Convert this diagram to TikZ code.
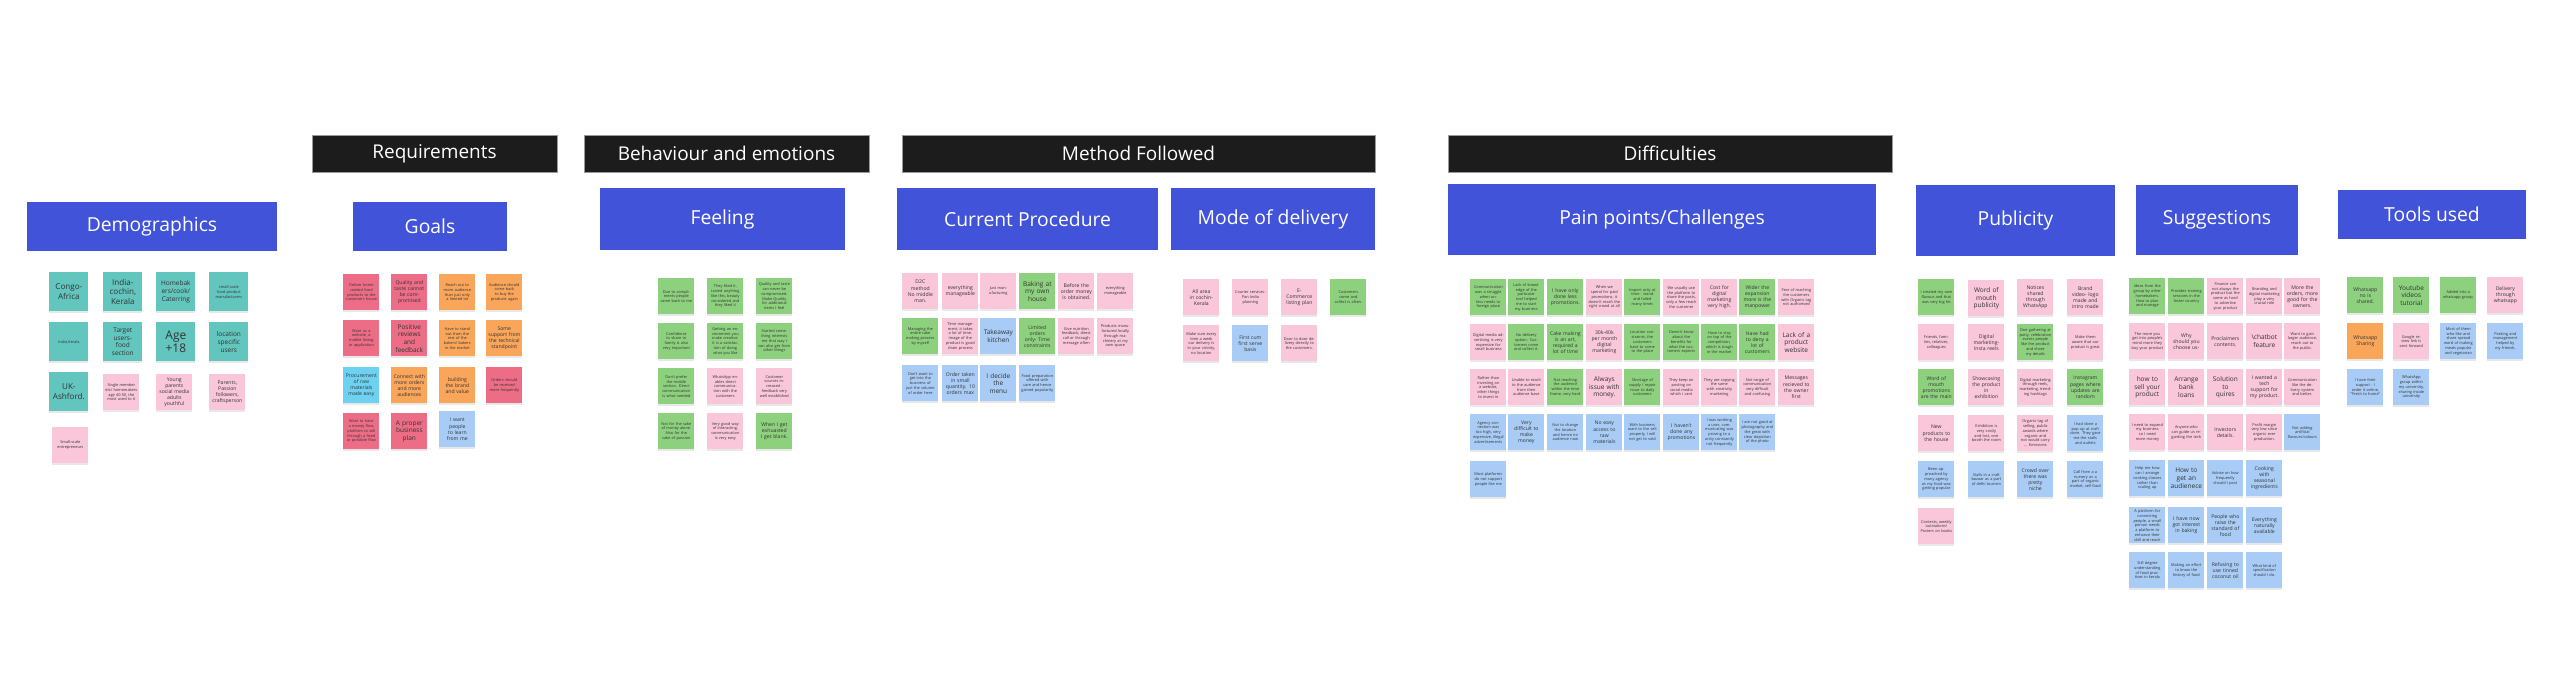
\documentclass[tikz,border=0pt]{standalone}
\usepackage{fontspec}
\setmainfont{Open Sans}
\usepackage{xcolor}
\usepackage{tikz}
\usetikzlibrary{shadows}

\definecolor{hblue}{HTML}{4153D8}
\definecolor{barblack}{HTML}{1C1C1C}
\definecolor{ink}{HTML}{333333}
\definecolor{stteal}{HTML}{62C5BE}
\definecolor{stpink}{HTML}{F9C6DA}
\definecolor{stgreen}{HTML}{8DD17E}
\definecolor{stred}{HTML}{EE6D86}
\definecolor{storange}{HTML}{F9A65A}
\definecolor{stcyan}{HTML}{6DD2F2}
\definecolor{stblue}{HTML}{A8CCF5}

\begin{document}
\begin{tikzpicture}[
    x=0.02cm, y=-0.02cm,
    bar/.style={rectangle, fill=barblack, draw=black!40, line width=0.3pt, text=white, inner sep=0pt, minimum height=0.74cm, font=\fontsize{10.8}{12}\selectfont},
    head/.style={rectangle, fill=hblue, text=white, inner sep=0pt, font=\fontsize{11}{13}\selectfont},
    note/.style={rectangle, anchor=north west, minimum width=0.72cm, minimum height=0.72cm, text width=0.64cm, inner sep=0.4mm, align=center, text=ink,
        drop shadow={shadow xshift=0pt, shadow yshift=-0.9pt, opacity=0.18}},
    wide/.style={minimum width=0.78cm, minimum height=0.78cm, text width=0.7cm},
    ctl/.style={fill=stteal}, cpk/.style={fill=stpink}, cgn/.style={fill=stgreen},
    crd/.style={fill=stred}, cor/.style={fill=storange}, ccy/.style={fill=stcyan}, cbl/.style={fill=stblue},
    fA/.style={font=\fontsize{6.8}{7.6}\selectfont},
    fB/.style={font=\fontsize{4.6}{5.4}\selectfont},
    fC/.style={font=\fontsize{3.7}{4.4}\selectfont},
    fD/.style={font=\fontsize{2.9}{3.5}\selectfont},
    fE/.style={font=\fontsize{2.2}{2.7}\selectfont}
]
\fill[white] (0,0) rectangle (2560,678);
\useasboundingbox (0,0) rectangle (2560,678);

% section bars
\node[bar, minimum width=4.9cm] (req) at (434.5,153.5) {Requirements};
\node[bar, minimum width=5.7cm] (behav) at (726.5,153.5) {Behaviour and emotions};
\node[bar, minimum width=9.46cm] (method) at (1138.5,153.5) {Method Followed};
\node[bar, minimum width=8.88cm] (diff) at (1670,153.5) {Difficulties};

% cluster headers
\node[head, minimum width=5cm, minimum height=0.98cm] (demo) at (152,226.5) {Demographics};
\node[head, minimum width=3.08cm, minimum height=0.98cm] (goals) at (430,226.5) {Goals};
\node[head, minimum width=4.9cm, minimum height=1.24cm] (feel) at (722.5,219) {Feeling};
\node[head, minimum width=5.22cm, minimum height=1.24cm] (proc) at (1027.5,219) {Current Procedure};
\node[head, minimum width=4.08cm, minimum height=1.24cm] (deliv) at (1273,219) {Mode of delivery};
\node[head, minimum width=8.56cm, minimum height=1.42cm] (pain) at (1662,219.5) {Pain points/Challenges};
\node[head, minimum width=3.98cm, minimum height=1.42cm] (publ) at (2015.5,220.5) {Publicity};
\node[head, minimum width=3.24cm, minimum height=1.4cm] (sugg) at (2217,220) {Suggestions};
\node[head, minimum width=3.76cm, minimum height=0.98cm] (tools) at (2432,214.5) {Tools used};

% Demographics
\node[note, wide, ctl, fB] (demo1) at (49,272) {Congo-\\Africa};
\node[note, wide, ctl, fB] (demo2) at (103,272) {India-\\cochin,\\Kerala};
\node[note, wide, ctl, fC] (demo3) at (156,272) {Homebak\\ers/cook/\\Caterring};
\node[note, wide, ctl, fE] (demo4) at (209,272) {small-scale food product manufacturers};
\node[note, wide, ctl, fE] (demo5) at (49,322) {India,Kerala};
\node[note, wide, ctl, fC] (demo6) at (103,322) {Target\\users-\\food\\section};
\node[note, wide, ctl, fA] (demo7) at (156,322) {Age\\+18};
\node[note, wide, ctl, fC] (demo8) at (209,322) {location\\specific\\users};
\node[note, wide, ctl, fB] (demo9) at (49,372) {UK-\\Ashford.};
\node[note, cpk, fE] (demo10) at (103,374) {Single member ets/ homemakers age 40-50, the most used to it};
\node[note, cpk, fD] (demo11) at (156,374) {Young\\parents\\social media\\adults youthful};
\node[note, cpk, fD] (demo12) at (209,374) {Parents,\\Passion\\followers,\\craftsperson};
\node[note, cpk, fE] (demo13) at (52,427) {Small-scale entrepreneurs};

% Goals
\node[note, crd, fE] (goal1) at (343,274) {Deliver home cooked food products to the customers house};
\node[note, crd, fD] (goal2) at (391,274) {Quality and taste cannot be compromised};
\node[note, cor, fE] (goal3) at (439,274) {Reach out to more audience than just only a limited lot};
\node[note, cor, fE] (goal4) at (486,274) {Audience should come back to buy the products again};
\node[note, crd, fE] (goal5) at (343,320) {Want us a website, a mobile listing or application};
\node[note, crd, fC] (goal6) at (391,320) {Positive\\reviews\\and\\feedback};
\node[note, cor, fE] (goal7) at (439,320) {Have to stand out from the rest of the bakers/ bakers in the market};
\node[note, cor, fD] (goal8) at (486,320) {Some support from the technical standpoint};
\node[note, ccy, fD] (goal9) at (343,367) {Procurement of raw materials made easy};
\node[note, cor, fD] (goal10) at (391,367) {Connect with more orders and more audiences};
\node[note, cor, fD] (goal11) at (439,367) {building the brand and value};
\node[note, crd, fE] (goal12) at (486,367) {Orders should be received more frequently};
\node[note, crd, fE] (goal13) at (343,413) {Want to have a money flow, platform to sell through a fixed or possible flow};
\node[note, crd, fC] (goal14) at (391,413) {A proper\\business\\plan};
\node[note, cbl, fD] (goal15) at (439,411) {I want people to learn from me};

% Feeling
\node[note, cgn, fE] (feel1) at (658,278) {Due to compliments people came back to me};
\node[note, cgn, fE] (feel2) at (707,278) {They liked it, tasted anything like this, beauty considered and they liked it};
\node[note, cgn, fE] (feel3) at (756,278) {Quality and taste can never be compromised. Make Quality for additional items I feel};
\node[note, cgn, fE] (feel4) at (658,323) {Confidence to share to family is also very important};
\node[note, cgn, fE] (feel5) at (707,323) {Getting an environment you make creative. It is a satisfaction of doing what you like};
\node[note, cgn, fE] (feel6) at (756,323) {Started something interests me that way I can also get from other things};
\node[note, cgn, fE] (feel7) at (658,368) {Don't prefer the mobile section. Direct communication is what needed};
\node[note, cpk, fE] (feel8) at (707,368) {WhatsApp enables direct communication with the customers};
\node[note, cpk, fE] (feel9) at (756,368) {Customer sources increased - feedback very well established};
\node[note, cgn, fE] (feel10) at (658,413) {Not for the sake of money alone. Also for the sake of passion};
\node[note, cpk, fE] (feel11) at (707,413) {Very good way of interacting, communication is very easy};
\node[note, cgn, fD] (feel12) at (756,413) {When I get exhuasted I get blank.};

% Current procedure
\node[note, cpk, fD] (proc1) at (902,273) {D2C\\method\\No middle\\man.};
\node[note, cpk, fD] (proc2) at (942,273) {everything manageable};
\node[note, cpk, fE] (proc3) at (980,273) {just manufacturing};
\node[note, cgn, fC] (proc4) at (1019,273) {Baking at\\my own\\house};
\node[note, cpk, fD] (proc5) at (1058,273) {Before the order money is obtained.};
\node[note, cpk, fE] (proc6) at (1097,273) {everything manageable};
\node[note, cgn, fE] (proc7) at (902,318) {Managing the entire cake making process by myself};
\node[note, cpk, fE] (proc8) at (942,318) {Time management, it takes a lot of time. Image of the product is good chain process};
\node[note, cbl, fC] (proc9) at (980,318) {Takeaway\\kitchen};
\node[note, cgn, fD] (proc10) at (1019,318) {Limited\\orders\\only- Time\\constraints};
\node[note, cpk, fE] (proc11) at (1058,318) {Give nutrition feedback, direct call or through message often};
\node[note, cpk, fE] (proc12) at (1097,318) {Products manufactured locally through machinery at my own space};
\node[note, cbl, fE] (proc13) at (902,365) {Don't want to get into the business of just the volume of order here};
\node[note, cbl, fD] (proc14) at (942,365) {Order taken in small quantity. 10 orders max};
\node[note, cbl, fC] (proc15) at (980,365) {I decide\\the\\menu};
\node[note, cbl, fE] (proc16) at (1019,365) {Food preparation offered with care and hence gained popularity};

% Mode of delivery
\node[note, cpk, fD] (deliv1) at (1183,279) {All area\\in cochin-\\Kerala};
\node[note, cpk, fE] (deliv2) at (1232,279) {Courier services- Pan India planning};
\node[note, cpk, fD] (deliv3) at (1281,279) {E-\\Commerce\\listing plan};
\node[note, cgn, fE] (deliv4) at (1330,279) {Customers come and collect is often.};
\node[note, cpk, fE] (deliv5) at (1183,325) {Make sure every time a week our delivery is in your vicinity, no location};
\node[note, cbl, fD] (deliv6) at (1232,325) {First cum\\first serve\\basis};
\node[note, cpk, fE] (deliv7) at (1281,325) {Door to door delivery directly to the customers.};

% Pain points
\node[note, cgn, fE] (pain1) at (1470,279) {Communication was a struggle when unless needs to foreign place};
\node[note, cgn, fE] (pain2) at (1508,279) {Lack of knowledge of the particular tool helped me to start my business};
\node[note, cgn, fD] (pain3) at (1547,279) {I have only\\done less\\promotions.};
\node[note, cpk, fE] (pain4) at (1586,279) {When we spend for paid promotions, it doesn't reach the right crowd at all};
\node[note, cgn, fE] (pain5) at (1624,279) {Import only at time - stand and failed many times};
\node[note, cpk, fE] (pain6) at (1663,279) {We usually use the platform to share the posts, only a few reach the customer};
\node[note, cpk, fD] (pain7) at (1701,279) {Cost for\\digital\\marketing\\very high.};
\node[note, cgn, fD] (pain8) at (1739,279) {Wider the\\expansion\\more is the\\manpower};
\node[note, cpk, fE] (pain9) at (1778,279) {Fear of reaching the customers with Organic tag not authorised};
\node[note, cpk, fE] (pain10) at (1470,324) {Digital media advertising is very expensive for small business};
\node[note, cgn, fE] (pain11) at (1508,324) {No delivery option. Customers come and collect it.};
\node[note, cgn, fD] (pain12) at (1547,324) {Cake making\\is an art,\\required a\\lot of time};
\node[note, cpk, fD] (pain13) at (1586,324) {30k-40k\\per month\\digital\\marketing};
\node[note, cgn, fE] (pain14) at (1624,324) {Location constraints, the customers have to come to the place};
\node[note, cgn, fE] (pain15) at (1663,324) {Doesn't know about the benefits for what the customers expects};
\node[note, cgn, fE] (pain16) at (1701,324) {Have to stay on top of the competition, which is tough in the market};
\node[note, cgn, fD] (pain17) at (1739,324) {Have had\\to deny a\\lot of\\customers};
\node[note, cpk, fC] (pain18) at (1778,324) {Lack of a\\product\\website};
\node[note, cpk, fE] (pain19) at (1470,369) {Rather than investing on a website, other things to invest in};
\node[note, cpk, fE] (pain20) at (1508,369) {Unable to reach to the audience from their audience base};
\node[note, cgn, fE] (pain21) at (1547,369) {Not reaching the audience within the time frame, very hard};
\node[note, cpk, fC] (pain22) at (1586,369) {Always\\issue with\\money.};
\node[note, cgn, fE] (pain23) at (1624,369) {Shortage of supply / repair issue to daily customers};
\node[note, cpk, fE] (pain24) at (1663,369) {They keep on posting on social media which i cant};
\node[note, cpk, fE] (pain25) at (1701,369) {They are copying the same with creativity marketing};
\node[note, cpk, fE] (pain26) at (1739,369) {Not range of communication very difficult and confusing};
\node[note, cpk, fD] (pain27) at (1778,369) {Messages\\recieved to\\the owner\\first};
\node[note, cbl, fE] (pain28) at (1470,414) {Agency connection was too high, very expensive, illegal advertisements};
\node[note, cbl, fD] (pain29) at (1508,414) {Very\\difficult to\\make\\money};
\node[note, cbl, fE] (pain30) at (1547,414) {Not to change the location and hence no audience now};
\node[note, cbl, fD] (pain31) at (1586,414) {No easy\\access to\\raw\\materials};
\node[note, cbl, fE] (pain32) at (1624,414) {With business want to the sell properly, I will not get to sold};
\node[note, cbl, fD] (pain33) at (1663,414) {I haven't\\done any\\promotions};
\node[note, cbl, fE] (pain34) at (1701,414) {I was working a user, communicating was proving to a unity constantly not frequently};
\node[note, cbl, fE] (pain35) at (1739,414) {I am not good at photography and the great with clear depiction of the photo};
\node[note, cbl, fE] (pain36) at (1470,461) {Most platforms do not support people like me};

% Publicity
\node[note, cgn, fE] (publ1) at (1918,279) {I created my own flavour and that was very big hit};
\node[note, cpk, fC] (publ2) at (1968,280) {Word of\\mouth\\publicity};
\node[note, cpk, fD] (publ3) at (2017,279) {Notices\\shared\\through\\WhatsApp};
\node[note, cpk, fD] (publ4) at (2067,279) {Brand\\video- logo\\made and\\intro made};
\node[note, cpk, fE] (publ5) at (1918,324) {Friends, families, relatives, colleagues};
\node[note, cpk, fD] (publ6) at (1968,324) {Digital\\marketing-\\Insta reels};
\node[note, cgn, fE] (publ7) at (2017,324) {One gathering at party, celebration events people like the product and share my details};
\node[note, cpk, fE] (publ8) at (2067,324) {Make them aware that our product is great};
\node[note, cgn, fD] (publ9) at (1918,369) {Word of\\mouth\\promotions\\are the main};
\node[note, cpk, fD] (publ10) at (1968,369) {Showcasing\\the product\\in\\exhibition};
\node[note, cpk, fE] (publ11) at (2017,369) {Digital marketing through reels, marketing, trending hashtags};
\node[note, cgn, fD] (publ12) at (2067,369) {Instagram\\pages where\\updates are\\random};
\node[note, cpk, fD] (publ13) at (1918,415) {New\\products to\\the house};
\node[note, cpk, fE] (publ14) at (1968,415) {Exhibition is very costly and lost, one booth the room};
\node[note, cpk, fE] (publ15) at (2017,415) {Organic tag of selling, public awards where organic and not would carry ... Emissions};
\node[note, cbl, fE] (publ16) at (2067,415) {I had done a pop up at craft store. They gave me the stalls and outlets};
\node[note, cbl, fE] (publ17) at (1918,461) {Been approached by many agency as my food was getting popular};
\node[note, cbl, fE] (publ18) at (1968,461) {Stalls in a craft bazaar as a part of delhi tourism};
\node[note, cbl, fD] (publ19) at (2017,461) {Crowd over\\there was\\pretty\\niche};
\node[note, cbl, fE] (publ20) at (2067,461) {Call from a a nursery as a part of organic market, sell food};
\node[note, cpk, fE] (publ21) at (1918,508) {Contests, weekly outstations! Posters on books};

% Suggestions
\node[note, cgn, fE] (sugg1) at (2129,278) {Ideas from the group by other homebakers. How to plan and manage};
\node[note, cgn, fE] (sugg2) at (2168,278) {Provides training sessions in the foster country};
\node[note, cpk, fE] (sugg3) at (2207,278) {Finance can not always the product but the same as hard to advertise your product};
\node[note, cpk, fE] (sugg4) at (2246,278) {Branding and digital marketing play a very crucial role};
\node[note, cpk, fD] (sugg5) at (2284,278) {More the\\orders, more\\good for the\\owners.};
\node[note, cpk, fE] (sugg6) at (2129,323) {The more you get into people's mind more they buy your product};
\node[note, cpk, fD] (sugg7) at (2168,323) {Why\\should you\\choose us-};
\node[note, cpk, fD] (sugg8) at (2207,323) {Proclaimers\\contents.};
\node[note, cpk, fC] (sugg9) at (2246,323) {\textbackslash chatbot\\feature};
\node[note, cpk, fE] (sugg10) at (2284,323) {Want to gain larger audience, reach out to the public.};
\node[note, cpk, fC] (sugg11) at (2129,369) {how to\\sell your\\product};
\node[note, cpk, fC] (sugg12) at (2168,369) {Arrange\\bank\\loans};
\node[note, cpk, fC] (sugg13) at (2207,369) {Solution\\to\\quires};
\node[note, cpk, fD] (sugg14) at (2246,369) {I wanted a\\tech\\support for\\my product.};
\node[note, cpk, fE] (sugg15) at (2284,369) {Communication like the delivery system and better.};
\node[note, cpk, fE] (sugg16) at (2129,414) {I need to expand my business so I need more money};
\node[note, cpk, fE] (sugg17) at (2168,414) {Anyone who can guide us regarding the tech};
\node[note, cpk, fD] (sugg18) at (2207,414) {Investors\\details.};
\node[note, cpk, fE] (sugg19) at (2246,414) {Profit margin very low since organic ever production.};
\node[note, cbl, fE] (sugg20) at (2284,414) {Not adding artificial flavours/colours};
\node[note, cbl, fE] (sugg21) at (2129,460) {Help me how can I arrange cooking classes rather than scaling up};
\node[note, cbl, fC] (sugg22) at (2168,460) {How to\\get an\\audienece};
\node[note, cbl, fE] (sugg23) at (2207,460) {Advice on how frequently should I post};
\node[note, cbl, fD] (sugg24) at (2246,460) {Cooking\\with\\seasonal\\ingredients};
\node[note, cbl, fE] (sugg25) at (2129,507) {A platform for connecting people, a small person needs a platform to enhance their skill and reach};
\node[note, cbl, fD] (sugg26) at (2168,507) {I have now\\got interest\\in baking};
\node[note, cbl, fD] (sugg27) at (2207,507) {People who\\raise the\\standard of\\food};
\node[note, cbl, fD] (sugg28) at (2246,507) {Everything\\naturally\\available};
\node[note, cbl, fE] (sugg29) at (2129,552) {Still degree understanding of food practises in kerala};
\node[note, cbl, fE] (sugg30) at (2168,552) {Making an effort to know the history of food};
\node[note, cbl, fD] (sugg31) at (2207,552) {Refusing to\\use tinned\\coconut oil};
\node[note, cbl, fE] (sugg32) at (2246,552) {What kind of specification should I do.};

% Tools used
\node[note, cgn, fD] (tool1) at (2347,277) {Whatsapp\\no is\\shared.};
\node[note, cgn, fC] (tool2) at (2393,277) {Youtube\\videos\\tutorial};
\node[note, cgn, fE] (tool3) at (2440,277) {Added into a whatsapp group.};
\node[note, cpk, fD] (tool4) at (2487,277) {Delivery\\through\\whatsapp};
\node[note, cor, fD] (tool5) at (2347,323) {Whatsapp\\Sharing};
\node[note, cpk, fE] (tool6) at (2393,323) {Google review link is sent forward};
\node[note, cbl, fE] (tool7) at (2440,323) {Most of them who like and share spread word of making meals popular and vegetarian};
\node[note, cbl, fE] (tool8) at (2487,323) {Packing and management helped by my friends.};
\node[note, cbl, fE] (tool9) at (2347,369) {I have their support - I order it online, "Fresh to home"};
\node[note, cbl, fE] (tool10) at (2393,369) {WhatsApp group within my university, sharing inside university};
\end{tikzpicture}
\end{document}
